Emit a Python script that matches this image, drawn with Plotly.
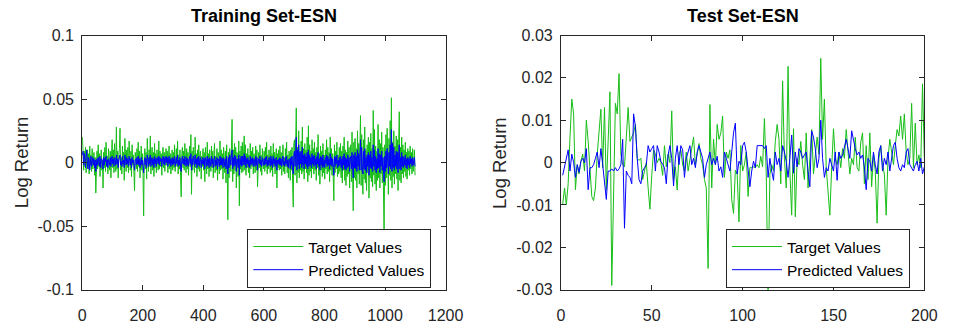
import plotly.graph_objects as go

# ---------------- data ----------------
# Training set (values in units of 1e-3 log return), every other sample index 1..1099
train_target_milli = [
    20, 4, -6, 9, -3, 12, -8, 5, 10, -4, 7, -9, 13, -2, 6, -7, 11, -5, 3, 8, -10, 4, -24, 6, 9,
    -5, 14, -3, 7, -11, 5, 10, -6, 2, -20, 8, -4, 12, -7, 16, -3, 5, -9, 11, 4, -6, 9, -12, 6, 18,
    -4, 10, -8, 15, 3, -7, 28, -5, 9, -12, 6, 11, 27, -6, 4, -9, 13, -3, 8, -14, 19, 5, -7, 10, -4,
    12, -8, 17, 3, -6, 9, -11, 14, -2, 6, -9, -22, 8, 4, -5, 11, -7, 16, -3, 9, -12, 5, 13, -6, 7,
    -10, -42, 6, 11, -5, 8, -13, 19, 4, -7, 10, -3, 21, -9, 5, 12, -6, 8, -11, 15, -4, 7, -8, 10, 3,
    -6, 17, -5, 9, -3, 7, -10, 5, 12, -4, 8, -7, 6, 11, -2, 9, -8, 4, 13, -5, 7, -9, 3, 10, -6,
    8, -4, 14, -7, 5, 11, -3, 17, -9, 6, -5, 10, -12, -27, 7, 12, -4, 9, -6, 15, 3, -8, 11, -5, 8,
    -10, 6, 13, -3, 22, -25, 9, -6, 12, 4, -8, 20, -4, 7, -11, 10, -5, 14, -7, 6, 9, -13, 5, -3, 11,
    -6, 8, -15, 12, 4, -9, 16, -5, 7, -11, 10, 3, -7, 13, -4, 9, -12, 6, 15, -8, 5, -6, 11, -14, 8,
    4, -9, 17, -6, 10, -5, 7, -13, 12, 3, -8, 9, -16, 14, -4, -45, 8, -12, 11, 6, -7, 19, 34, -15, 10,
    -9, 15, -6, 12, -20, 8, 4, -11, 17, -34, 9, -5, 13, -8, 16, -7, 10, 21, -6, 14, -10, 7, -4, 11, -8,
    6, -12, 15, -5, 9, -3, 12, -9, 7, 4, -8, 13, -6, 10, -19, 5, 8, -4, 14, -7, 6, -10, 11, 3, -5,
    9, -7, 12, -4, 16, -9, 6, -5, 10, 4, -8, 13, -6, 7, -11, 15, -3, 8, -9, 5, 11, -20, 7, -4, 10,
    -6, 13, -5, 8, -10, 6, 14, -7, 4, -9, 11, -3, 16, -8, 6, -12, 9, 5, -14, 10, -6, 12, -18, -35, 15,
    18, -10, 22, 43, -16, 12, -8, 25, -12, 9, -6, 17, -9, 28, -7, 11, -13, 15, -5, 10, -8, 20, -15, 29, -10,
    14, -7, 9, -12, 18, -5, 11, -9, 16, -6, 8, -14, 12, -4, 22, -10, 7, -17, 13, -6, 9, -11, 15, -8, 6,
    -13, 10, -5, 18, -9, 12, -7, 8, -15, 20, -6, 11, -10, 7, -12, -30, 14, -8, 9, -5, 16, -11, 6, -9, 12,
    -7, 15, -12, 9, -16, 13, -6, 20, -14, 10, -18, 8, -11, 17, -9, 12, -20, 7, 14, -15, 24, -10, -38, 16, -12,
    19, -14, 11, -20, 25, -9, 15, -17, 12, 37, -18, 22, -11, -25, 18, -13, 28, -16, 10, -22, 14, -8, 20, -28, 16,
    -12, 23, -15, 11, -19, 41, -10, 26, -17, 13, -22, 9, -14, 30, -12, 18, -20, 15, -9, 24, -16, 12, -25, -60, 14,
    -18, 22, -12, 27, -15, -25, 19, -10, 33, -14, 51, -20, 16, -11, 25, -17, 13, -9, 21, -13, 18, -22, 15, 40, -14,
    12, -16, 20, -9, 14, -12, 10, -7, 16, -11, 8, -13, 11, -6, 9, -10, 13, -5, 8, -9, 11, -7, 6, 10, -10,
]
train_pred_milli = [
    6, 9, -2, 7, 3, -4, 5, 10, 1, -5, 4, 2, -6, 3, 5, -3, 1, 4, -2, 3, -4, 2, -7, 1, 3,
    -2, 4, 1, -3, 5, -4, 2, 3, -1, -5, 4, -2, 3, 1, 5, -3, 2, -4, 3, 1, -2, 4, -3, 2, 5,
    -1, 3, -3, 4, 2, -2, 6, -1, 3, -4, 2, 4, 6, -2, 1, -3, 5, -1, 2, -4, 6, 3, -2, 4, -1,
    3, -3, 5, 1, -2, 3, -4, 4, 0, 2, -3, -6, 2, 3, -2, 4, -1, 5, -2, 3, -4, 1, 4, -2, 2,
    -3, -8, 1, 4, -2, 3, -4, 6, 2, -3, 4, -1, 6, -3, 2, 4, -2, 3, -4, 5, -1, 3, -3, 4, 2,
    -1, 5, -2, 4, 1, 3, -3, 2, 5, -1, 4, -2, 3, 5, 0, 4, -3, 2, 5, -1, 3, -3, 2, 4, -2,
    3, -1, 5, -3, 2, 4, -1, 6, -3, 2, -2, 4, -4, -7, 2, 5, -1, 3, -2, 5, 1, -3, 4, -2, 3,
    -3, 2, 5, -1, 7, -6, 3, -2, 5, 2, -3, 6, -1, 3, -4, 4, -2, 5, -3, 2, 4, -4, 2, -1, 4,
    -2, 3, -5, 4, 2, -3, 5, -2, 3, -4, 4, 1, -3, 5, -1, 3, -4, 2, 5, -3, 2, -2, 4, -5, 3,
    1, -3, 5, -2, 4, -2, 3, -4, 4, 1, -3, 3, -5, 5, -1, -9, 4, -4, 6, 3, -2, 7, 10, -5, 4,
    -3, 6, -2, 5, -7, 3, 2, -4, 6, -10, 3, -2, 5, -3, 5, -2, 4, 7, -2, 5, -4, 3, -1, 4, -3,
    2, -4, 5, -2, 3, -1, 4, -3, 3, 1, -3, 5, -2, 4, -6, 2, 3, -1, 5, -2, 2, -3, 4, 1, -2,
    3, -2, 4, -1, 5, -3, 2, -2, 4, 1, -3, 5, -2, 3, -4, 5, -1, 3, -3, 2, 4, -6, 2, -1, 3,
    -2, 4, -2, 3, -3, 2, 5, -2, 1, -3, 4, -1, 5, -3, 2, -4, 3, 2, -5, 4, -2, 5, -6, -9, 6,
    9, -3, 12, 20, -6, 10, -2, 14, -5, 8, -1, 9, -4, 12, -2, 6, -5, 7, -1, 5, -3, 8, -5, 10, -3,
    6, -2, 4, -4, 7, -1, 5, -3, 6, -2, 3, -5, 5, -1, 8, -3, 3, -6, 5, -2, 4, -4, 6, -3, 2,
    -4, 4, -1, 6, -3, 5, -2, 3, -5, 7, -2, 4, -3, 3, -4, -10, 5, -3, 4, -1, 6, -4, 2, -3, 4,
    -2, 5, -4, 3, -6, 5, -2, 7, -5, 4, -6, 3, -4, 6, -3, 4, -7, 2, 5, -5, 8, -4, -12, 6, -4,
    8, -5, 5, -7, 10, -3, 7, -6, 6, 18, -6, 12, -4, -9, 9, -5, 11, -6, 4, -8, 6, -3, 8, -10, 6,
    -4, 9, -5, 4, -7, 14, -3, 10, -6, 5, -8, 3, -5, 11, -4, 7, -8, 6, -3, 9, -6, 4, -10, -15, 5,
    -7, 9, -4, 11, -5, -9, 8, -3, 14, -5, 26, -7, 15, -4, 12, -6, 6, -3, 9, -5, 8, -8, 6, 14, -5,
    4, -6, 8, -3, 5, -4, 4, -2, 6, -4, 3, -5, 4, -2, 3, -4, 5, -1, 3, -3, 4, -2, 2, 4, -3,
]
train_index = list(range(1, 1100, 2))

# Test set (log returns), samples 1..200
test_target = [
    -0.0098, -0.006, -0.010, -0.005, 0.006, 0.015, 0.0115, -0.0064, -0.0005, -0.0027,
    0.0003, 0.002, -0.002, 0.010, 0.005, -0.001, -0.008, -0.009, -0.006, 0.002,
    0.008, 0.0126, -0.0012, 0.013, -0.0065, 0.007, 0.0167, -0.029, -0.005, 0.014,
    0.0115, 0.021, 0.002, -0.0005, -0.001, 0.005, 0.013, 0.005, 0.006, 0.007,
    0.009, 0.001, 0.0005, 0.001, -0.004, -0.002, 0.000, -0.006, -0.011, -0.003,
    0.003, 0.002, 0.000, 0.001, 0.000, -0.003, 0.004, -0.001, 0.002, 0.000,
    0.0122, -0.004, -0.001, -0.0065, 0.002, 0.003, -0.0005, -0.002, 0.0025, -0.002,
    0.001, 0.004, 0.006, -0.0005, 0.0025, 0.0045, 0.001, -0.0005, -0.004, -0.006,
    -0.025, 0.0137, -0.006, 0.0055, -0.0005, 0.009, 0.0055, 0.007, 0.011, -0.0035,
    0.0025, 0.001, 0.003, -0.0087, -0.012, -0.0018, -0.0027, -0.014, 0.004, -0.002,
    -0.0005, 0.0025, -0.008, -0.0012, -0.0012, -0.001, -0.0012, -0.0005, -0.0012, 0.0015,
    -0.001, 0.0104, -0.0027, -0.031, -0.0027, -0.0005, -0.002, 0.005, 0.009, 0.0055,
    -0.005, 0.0193, 0.001, -0.006, 0.0227, -0.002, -0.0124, 0.008, -0.0128, 0.001,
    -0.0005, 0.005, -0.0005, -0.004, 0.007, -0.006, 0.001, 0.0078, -0.0027, 0.001,
    0.006, 0.002, 0.0246, 0.0055, 0.015, -0.0012, -0.0065, -0.0124, -0.0012, 0.008,
    0.001, -0.0005, 0.0025, -0.0012, 0.0033, 0.001, 0.0078, 0.0018, -0.0027, 0.001,
    -0.0005, 0.006, -0.0012, -0.002, 0.0048, 0.007, -0.005, 0.004, -0.004, 0.007,
    -0.0057, 0.0018, -0.002, -0.0143, 0.001, 0.004, -0.0005, -0.0027, -0.0124, 0.001,
    0.0055, 0.0025, -0.0005, 0.004, 0.0078, 0.0063, 0.011, 0.0055, 0.0115, 0.0025,
    -0.0005, 0.001, 0.014, -0.0012, 0.0093, -0.0005, 0.0018, -0.0012, 0.0186, 0.001,
]
test_pred = [
    -0.003, -0.001, 0.001, 0.003, -0.002, 0.002, 0.000, -0.0035, -0.0005, -0.0023,
    0.0003, 0.001, 0.000, 0.0033, -0.0064, -0.0012, -0.0012, -0.0005, 0.001, 0.0025,
    -0.0012, 0.0033, -0.0005, -0.005, -0.0087, -0.002, -0.002, -0.0015, -0.002, -0.0012,
    -0.002, -0.0015, -0.0005, 0.0055, -0.0155, -0.002, -0.003, -0.0035, -0.005, 0.0115,
    0.0085, 0.001, -0.004, -0.005, -0.002, -0.0012, -0.0005, 0.004, 0.0025, 0.0033,
    0.004, -0.002, 0.004, 0.0025, 0.0003, -0.0004, -0.0012, -0.005, 0.0018, 0.004,
    0.001, -0.0055, 0.001, 0.004, -0.0005, 0.004, 0.003, -0.0035, 0.001, 0.0025,
    0.004, -0.0005, 0.001, -0.0012, 0.0025, 0.004, 0.0025, 0.001, -0.0035, -0.0005,
    0.001, 0.0025, -0.0005, 0.001, -0.0005, 0.0015, -0.002, -0.001, -0.0035, 0.0025,
    0.001, -0.0005, -0.002, 0.0025, 0.007, 0.0093, -0.0027, 0.0003, -0.0005, 0.004,
    0.0048, 0.0025, -0.0025, -0.0057, -0.002, 0.0003, -0.0012, 0.004, 0.004, 0.004,
    0.004, 0.0033, 0.004, -0.0035, 0.001, -0.002, -0.0042, 0.0025, -0.0005, 0.001,
    -0.002, 0.004, 0.0025, 0.0003, -0.0035, 0.001, 0.0065, -0.0025, 0.0025, -0.001,
    0.0033, 0.0025, 0.001, 0.0018, 0.0025, -0.002, -0.0057, 0.0075, 0.006, 0.0033,
    -0.0012, 0.001, 0.010, 0.001, -0.0035, -0.0012, -0.002, 0.001, -0.0005, -0.002,
    0.0025, -0.0042, 0.0025, 0.001, 0.0018, 0.004, 0.0055, 0.0033, 0.001, 0.0075,
    0.005, 0.0033, 0.0018, 0.0025, 0.001, 0.0018, -0.001, -0.0064, 0.001, 0.0003,
    -0.002, 0.0025, -0.0005, -0.0027, 0.0025, 0.004, -0.002, 0.001, -0.0005, 0.0025,
    -0.002, 0.001, 0.004, 0.0048, 0.001, -0.0012, -0.002, -0.0005, -0.0012, 0.0025,
    0.0033, -0.0005, -0.0012, -0.002, -0.0005, 0.0003, -0.002, 0.001, -0.0027, -0.001,
]
test_index = list(range(1, 201))

train_xticks = [0, 200, 400, 600, 800, 1000, 1200]
train_yticks = [-0.1, -0.05, 0, 0.05, 0.1]
train_yticklabels = ["-0.1", "-0.05", "0", "0.05", "0.1"]
test_xticks = [0, 50, 100, 150, 200]
test_yticks = [-0.03, -0.02, -0.01, 0, 0.01, 0.02, 0.03]
test_yticklabels = ["-0.03", "-0.02", "-0.01", "0", "0.01", "0.02", "0.03"]

series_names = ["Target Values", "Predicted Values"]
titles = ["Training Set-ESN", "Test Set-ESN"]
ylabel = "Log Return"

# ---------------- styling ----------------
W, H = 957, 329
FONT = "Liberation Sans, Arial, Helvetica, sans-serif"
AXC = "#262626"
GREEN = "rgb(24,190,24)"
BLUE = "rgb(0,0,255)"

def px_x(p):
    return p / W

def px_y(p):
    return 1 - p / H

train_target = [v / 1000 for v in train_target_milli]
train_pred = [v / 1000 for v in train_pred_milli]

fig = go.Figure()
fig.add_trace(go.Scatter(x=train_index, y=train_target, mode="lines", name=series_names[0],
                         line=dict(color=GREEN, width=1), xaxis="x", yaxis="y", legend="legend"))
fig.add_trace(go.Scatter(x=train_index, y=train_pred, mode="lines", name=series_names[1],
                         line=dict(color=BLUE, width=1), xaxis="x", yaxis="y", legend="legend"))
fig.add_trace(go.Scatter(x=test_index, y=test_target, mode="lines", name=series_names[0],
                         line=dict(color=GREEN, width=1), xaxis="x2", yaxis="y2", legend="legend2"))
fig.add_trace(go.Scatter(x=test_index, y=test_pred, mode="lines", name=series_names[1],
                         line=dict(color=BLUE, width=1), xaxis="x2", yaxis="y2", legend="legend2"))

axis_common = dict(showgrid=False, zeroline=False, showline=True, linecolor=AXC, linewidth=1,
                   mirror="ticks", ticks="inside", ticklen=5, tickcolor=AXC, tickwidth=1,
                   tickfont=dict(family=FONT, size=16, color=AXC))

ydom = [px_y(297), px_y(29)]
legend_common = dict(bgcolor="white", bordercolor=AXC, borderwidth=1,
                     font=dict(family=FONT, size=15.5, color="#000000"),
                     xanchor="left", yanchor="top", itemwidth=50, tracegroupgap=0)

fig.update_layout(
    width=W, height=H,
    margin=dict(l=0, r=0, t=0, b=0),
    paper_bgcolor="white", plot_bgcolor="white",
    xaxis=dict(domain=[px_x(80), px_x(452)], range=[0, 1200], tickvals=train_xticks,
               anchor="y", ticklabelstandoff=11, **axis_common),
    yaxis=dict(domain=ydom, range=[-0.1, 0.1], tickvals=train_yticks, ticktext=train_yticklabels,
               anchor="x", ticklabelstandoff=4, **axis_common),
    xaxis2=dict(domain=[px_x(570), px_x(942)], range=[0, 200], tickvals=test_xticks,
                anchor="y2", ticklabelstandoff=11, **axis_common),
    yaxis2=dict(domain=ydom, range=[-0.03, 0.03], tickvals=test_yticks, ticktext=test_yticklabels,
                anchor="x2", ticklabelstandoff=4, **axis_common),
    legend=dict(x=px_x(249), y=px_y(233), **legend_common),
    legend2=dict(x=px_x(739), y=px_y(233), **legend_common),
    showlegend=True,
)

for cx, t in zip([266, 756], titles):
    fig.add_annotation(x=px_x(cx), y=px_y(8), xref="paper", yref="paper", text="<b>" + t + "</b>",
                       showarrow=False, font=dict(family=FONT, size=18, color="#000000"),
                       xanchor="center", yanchor="middle")
for lx in [18, 507]:
    fig.add_annotation(x=px_x(lx), y=px_y(163), xref="paper", yref="paper", text=ylabel,
                       textangle=-90, showarrow=False, font=dict(family=FONT, size=18.5, color=AXC),
                       xanchor="center", yanchor="middle")

fig.write_html("out.html")
